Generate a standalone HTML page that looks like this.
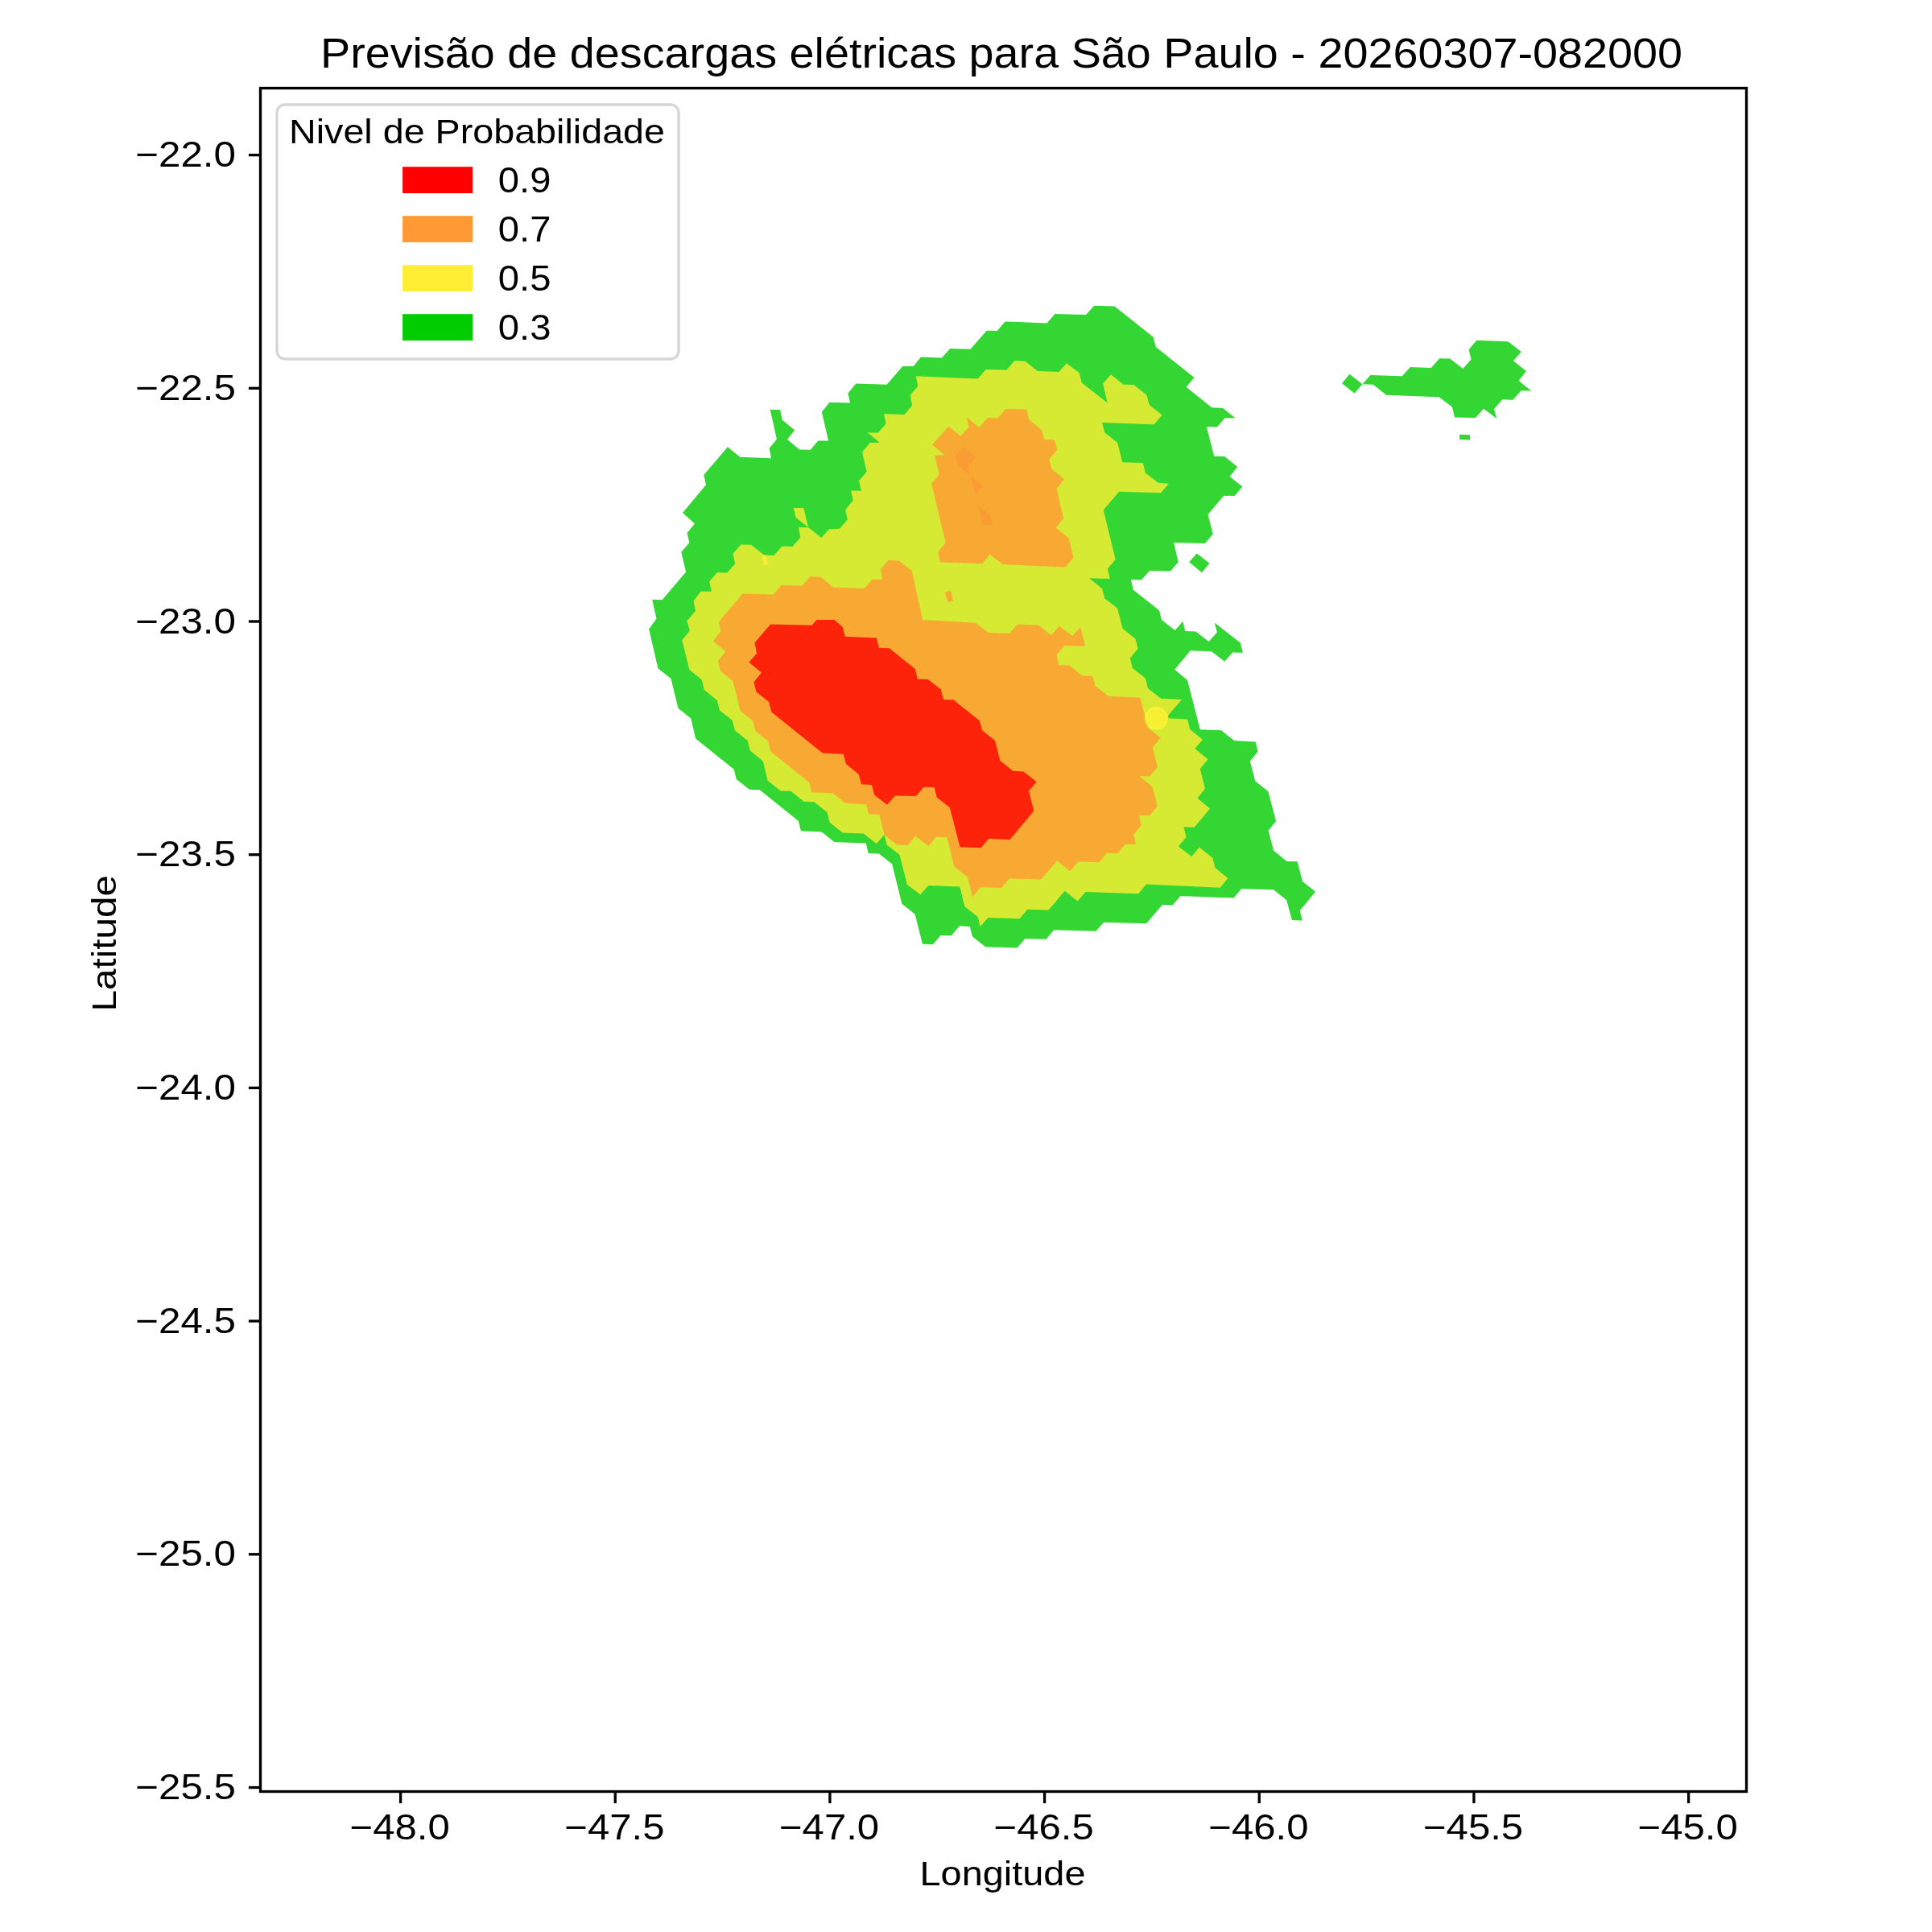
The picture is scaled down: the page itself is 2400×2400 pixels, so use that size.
<!DOCTYPE html><html><head><meta charset="utf-8"><style>html,body{margin:0;padding:0;background:#fff;width:2400px;height:2400px;overflow:hidden}svg{display:block;will-change:transform}text{font-family:"Liberation Sans",sans-serif;fill:#000}</style></head><body>
<svg width="2400" height="2400" viewBox="0 0 2400 2400">
<rect width="2400" height="2400" fill="#fff"/>
<path d="M815.5 768.6 L810.1 744.7 L822.5 745.2 L852.1 710.6 L846.3 685.7 L856.3 674.3 L853.6 661.9 L862.9 650.5 L848 637.1 L877 602.3 L874.3 589.9 L903.9 555.3 L919.4 567.7 L958.1 569.2 L955.6 557 L964.9 545.6 L956.7 508.7 L969.1 509.1 L971.8 521.8 L987.1 534.2 L978 546 L993.3 558.4 L1006.8 558.8 L1016.3 547.4 L1029.1 547.6 L1020.8 511.8 L1030.6 499.8 L1056 500.4 L1053.4 488.4 L1063.3 476.6 L1101.6 477.7 L1121.3 454.9 L1134.7 454.9 L1144 443.5 L1169.9 444.5 L1180.3 433.1 L1205.5 433.8 L1225.6 410.8 L1238.7 411 L1248.6 399.4 L1300.4 401.5 L1310.5 390.1 L1349 391.1 L1359.2 379.7 L1384.6 380.4 L1432.7 418.7 L1435.8 431.1 L1483.6 469 L1473.6 480.8 L1505.3 506.2 L1519.2 507.1 L1534.7 519.5 L1521.9 519.1 L1511.9 530.5 L1498.9 530 L1508.2 566.7 L1521.3 567.1 L1537.2 580.1 L1527.5 591.9 L1543.4 604.6 L1533.7 616 L1520.2 615.8 L1500.6 639.2 L1506.8 663.4 L1496.8 675 L1458.1 673.9 L1463.7 698.2 L1454 709.5 L1428.1 708.9 L1417.7 720.5 L1404.9 719.9 L1407.8 732.7 L1440.1 758.2 L1443 770 L1459.6 783 L1469.5 771.7 L1472.2 784.1 L1485.4 784.5 L1501.6 796.9 L1511.9 785.5 L1508.8 773.5 L1540.9 798.6 L1544 810.8 L1531.2 810.4 L1521.3 821.8 L1505.1 809.3 L1478.8 808.3 L1459.2 831.7 L1475.1 844.9 L1490.8 906.2 L1517.1 907.3 L1533.1 920.1 L1559.6 921.6 L1562.7 933.6 L1552.9 945.6 L1559.2 970.2 L1575.5 983.3 L1585 1019.9 L1585.3 1019.8 L1575.6 1031.7 L1582.1 1056.5 L1598.5 1069.9 L1611.7 1070.3 L1617.9 1094.8 L1634.1 1107.7 L1614.7 1131.3 L1617.9 1143.6 L1605 1143 L1598.1 1118 L1582 1105.2 L1542.2 1103.9 L1532.5 1115.4 L1466.5 1113 L1456.6 1124.5 L1443.9 1124 L1424 1147.2 L1371.2 1145.8 L1361.4 1156.7 L1309.1 1155.2 L1299.6 1166.8 L1273.4 1166.1 L1263.4 1177.5 L1224.2 1176.2 L1208 1163.5 L1204.8 1150.9 L1191.8 1150.3 L1181.9 1162.2 L1168.5 1161.9 L1159 1173.3 L1146 1172.7 L1136.6 1135.7 L1120.4 1122.7 L1108.1 1073.3 L1091.9 1060.5 L1078.8 1059.9 L1075.7 1047.4 L1036.4 1046 L1020.8 1033.4 L995 1032.3 L991.9 1019.9 L943.8 981.2 L930.8 980.8 L914.8 968.1 L911.7 955.7 L864.1 917.4 L858.3 892.6 L842.4 879.7 L833.5 842.9 L817.5 830.5 L806.1 781.4 Z" fill="#33d633"/>
<path d="M1692.5 477.2 L1702.4 465.9 L1741.8 467.3 L1751.9 455.9 L1777.8 457 L1788.1 445.2 L1801.2 445.6 L1817.3 458 L1827.5 446.6 L1824.6 434.2 L1834.3 422.8 L1873.6 424.2 L1889.8 436.9 L1879.9 448.3 L1896 461.1 L1886.5 473.1 L1902.2 485.5 L1889.6 485.3 L1879.4 496.7 L1866.4 496.3 L1856 508.1 L1859.2 520.1 L1843 507.7 L1832.9 519.1 L1807 518.4 L1803.9 505.6 L1787.7 493.2 L1722.1 490.7 L1705.9 477.7 Z" fill="#33d633"/>
<path d="M1667 476.2 L1676.5 464.8 L1692.5 477.2 L1682.5 488.6 Z" fill="#33d633"/>
<path d="M1813.2 539.8 L1826 540.2 L1826 546.6 L1813.2 546 Z" fill="#33d633"/>
<path d="M1477.2 698.2 L1486.7 687.4 L1502.6 699.8 L1492.9 711.2 Z" fill="#33d633"/>
<path d="M853.4 771.2 L864.1 758.8 L861.4 746.4 L870.7 734.8 L883.8 734.8 L881.1 722.4 L890.8 711.2 L903.3 711.6 L913.2 700.2 L910.5 687.8 L920.4 676.4 L932.9 676.8 L949.4 689.5 L961.4 689.9 L971.6 678.5 L984.6 678.9 L994.3 667.5 L991.9 655.3 L1004.3 655.3 L1020.2 668.1 L1030.2 657.2 L1043 656.7 L1052.9 645.4 L1050.2 633.4 L1059.8 621.6 L1057.1 609.5 L1069.9 609.8 L1067 597.3 L1076.7 585.9 L1071 561.5 L1080.9 550.1 L1092.7 549.7 L1077.8 537.3 L1090.6 537.7 L1100.6 526.3 L1098.1 514.3 L1123.7 514.9 L1133.1 503.5 L1130.6 491.1 L1140.3 479.7 L1137.8 467.3 L1214.8 470.4 L1224.6 459 L1250.5 459.4 L1260.4 448.1 L1273.4 448.7 L1289 461.1 L1315.3 462.1 L1325 451.2 L1340.7 463.2 L1343.8 475.6 L1375.7 500.4 L1370.1 476.6 L1379.9 465.2 L1395.6 477.7 L1408.4 478.1 L1424.6 490.7 L1427.7 503.1 L1443.6 515.5 L1433.7 527.3 L1369.1 524.9 L1372.2 537.3 L1388.1 549.7 L1394.3 574.3 L1419.8 575 L1422.9 587.4 L1438.9 599.8 L1451.9 600.8 L1442.2 612.2 L1390.2 610.8 L1370.7 633.6 L1385.7 695.1 L1375.9 706.4 L1378.8 718.9 L1353.1 718.2 L1369.1 731.3 L1372.2 743.3 L1388.1 755.7 L1394.6 780.8 L1410.5 793.4 L1413.6 805.8 L1403.9 817.6 L1406.8 830 L1422.9 842.5 L1426 854.9 L1442.2 867.7 L1468.1 869 L1451.3 888.4 L1451.3 892.2 L1475.1 893.6 L1478.2 906 L1493.9 918.7 L1484.4 930 L1500.6 943.3 L1490.8 954.9 L1497 979.7 L1487.5 991.5 L1503 1004.6 L1483.6 1027.8 L1470.5 1027.3 L1473.6 1039.8 L1463.9 1051.6 L1480.3 1064 L1489.8 1052.6 L1506.4 1065.7 L1509.5 1078.1 L1525.4 1090.9 L1515.7 1102.7 L1424 1098.6 L1414.2 1110.2 L1348.4 1107.9 L1338.7 1119.5 L1322.5 1106.4 L1322.5 1106.9 L1302.6 1130.6 L1276.3 1129.8 L1266.6 1141.2 L1227.4 1139.9 L1217.8 1150.9 L1214.6 1139 L1198.3 1126 L1192.2 1101.5 L1153.4 1100.1 L1143.3 1111.2 L1126.9 1098.9 L1117.6 1062.3 L1117.7 1061.9 L1101.6 1049.5 L1098.5 1037.1 L1088.8 1048.1 L1072.6 1035.4 L1046.7 1034.6 L1030.6 1021.6 L1027.5 1009.1 L1011.5 996.3 L998.5 995.7 L982.5 982.8 L969.7 982.6 L953.6 969.8 L947.8 945.6 L931.8 932.5 L928.7 920.1 L912.8 907.3 L909.7 894.8 L893.9 882.4 L890.8 870 L874.9 857 L871.8 844.5 L856.3 831.7 L847.3 795.3 L856.9 783.5 Z" fill="#d6e933"/>
<path d="M985.8 631 L998.3 631.1 L1004 655.1 L988.7 643 Z" fill="#d6e933"/>
<path d="M892.9 772.5 L895.2 784.5 L885.9 796.5 L901.4 809.3 L891.9 821.1 L895 833.8 L910.7 846.2 L919.4 882.8 L935.3 895.7 L938.4 908.1 L954.2 920.7 L957.3 933.6 L1005.3 971.9 L1008.4 984.3 L1034.3 985.3 L1050.2 997.7 L1076.1 999.2 L1079.2 1011.2 L1092.3 1011.8 L1098.5 1037.1 L1114.4 1049.5 L1127.5 1049.9 L1137.2 1038.5 L1153.4 1051 L1163.3 1039.6 L1176.5 1040.2 L1185.4 1076.4 L1202 1089.5 L1208.2 1113.7 L1218.4 1101.9 L1244.2 1102.9 L1253.8 1091.3 L1293.1 1092.6 L1313.2 1069.2 L1329.3 1082 L1339.5 1070.2 L1365.4 1071.2 L1374.9 1059.4 L1388.3 1059.9 L1398.1 1048.5 L1411.1 1049.1 L1408 1036.7 L1417.7 1025.3 L1415.1 1012.7 L1428.1 1012.9 L1437.8 1001.5 L1431.6 977.5 L1415.3 964 L1428.1 964.6 L1438 952.8 L1431.8 928.4 L1441.6 916.6 L1426 904.2 L1416.3 866.7 L1376.7 864.8 L1360.8 852.2 L1357.3 840 L1344.2 839.4 L1328.3 826.5 L1315.3 825.9 L1312.6 813.5 L1322.1 802.1 L1348 802.7 L1342.2 778.9 L1332.2 790.1 L1315.9 777.7 L1305.9 789.3 L1290 776.6 L1264.1 775.6 L1254.2 787 L1227.9 786.1 L1211.7 773.7 L1146.1 770 L1132.7 709.1 L1116.5 696.5 L1103.7 696.1 L1093.9 707.5 L1096.4 719.9 L1083.6 719.9 L1073.6 730.9 L1034.9 729.6 L1019.4 716.8 L1006.4 716.2 L996.4 727.8 L970.5 727.1 L960.8 738.5 L922.5 737.5 Z" fill="#f7a933"/>
<path d="M1178.2 529.8 L1158.1 552.6 L1173.4 565.2 L1161 565.7 L1166.8 589.5 L1157.1 600.8 L1174.7 674.3 L1165.2 685.7 L1167.8 698.2 L1220 700.2 L1229.8 688.8 L1245.9 701.3 L1323.5 704.4 L1333.5 692.6 L1327.7 668.6 L1311.5 655.7 L1321.1 643.9 L1312.6 607.1 L1322.1 595.3 L1306.4 582.8 L1303.3 570.4 L1313.2 559 L1310.1 546.6 L1297.2 546 L1294.1 534.2 L1278.4 521.6 L1275.3 508.7 L1249.4 508.1 L1239.3 519.5 L1226.6 519.1 L1216.5 530.9 L1200.8 518.4 L1203.5 530.5 L1193.5 541.8 Z" fill="#f7a933"/>
<path d="M1174.1 735.4 L1181.3 733.4 L1183.8 746.2 L1177.2 747.8 Z" fill="#f7a933"/>
<path d="M1174.4 736.4 L1180.3 734.9 L1183.2 746.8 L1177.3 748.1 Z" fill="#f7a933"/>
<path d="M1196.6 554.9 L1211.9 567.3 L1202.9 578.5 L1205.3 590.3 L1189.8 577.9 L1187 566.1 Z" fill="#f99c33"/>
<path d="M1205.7 591.6 L1221.2 603.7 L1211.6 614.8 Z" fill="#f99c33"/>
<path d="M1215 627.9 L1230.2 640.3 L1233.3 652.4 L1220.9 651.8 Z" fill="#f99c33"/>
<path d="M1008.4 776.8 L957.1 775.6 L937.4 798.6 L940.1 811.4 L930.4 822.8 L945.9 835.6 L936.4 847.2 L939.5 859.6 L955.2 872.1 L958.3 884.5 L1021.9 935.6 L1047.8 936.7 L1050.9 949.1 L1066.8 961.9 L1069.9 974.3 L1083 975 L1086.1 987.4 L1102 999.8 L1111.9 988.4 L1137.8 989 L1147.6 977.7 L1160.6 978.1 L1163.7 990.5 L1179.9 1003.3 L1192.5 1052.2 L1218.6 1053.2 L1228.3 1041.8 L1254.6 1042.9 L1284.2 1007.5 L1278 982.6 L1287.7 971.2 L1271.4 958.4 L1258.3 957.8 L1242.4 944.9 L1236 920.1 L1220 907.3 L1216.9 895.3 L1190 874.1 L1185 869.4 L1172 869 L1168.9 856.5 L1152.9 843.9 L1139.9 843.5 L1136.8 831.1 L1104.7 805.2 L1091.9 804.8 L1088.8 792.4 L1049.8 790.7 L1046.7 778.7 L1036.4 770 L1014.6 770 Z" fill="#fd220a"/>
<path d="M946.3 690.5 L951.5 689.5 L954.6 701.3 L949.4 702.7 Z" fill="#f7ef36"/>
<circle cx="1436.4" cy="892.4" r="14.4" fill="#fcf236"/><circle cx="1436.4" cy="892.4" r="11.6" fill="#f6f033"/>
<rect x="323.5" y="109.5" width="1846" height="2116" fill="none" stroke="#000" stroke-width="3.33" stroke-linejoin="miter"/>
<line x1="308.92" y1="192.6" x2="323.5" y2="192.6" stroke="#000" stroke-width="3.33"/>
<text x="293.0" y="207.2" font-size="44.3" text-anchor="end" textLength="124.8" lengthAdjust="spacingAndGlyphs">−22.0</text>
<line x1="308.92" y1="482.3" x2="323.5" y2="482.3" stroke="#000" stroke-width="3.33"/>
<text x="293.0" y="496.9" font-size="44.3" text-anchor="end" textLength="124.8" lengthAdjust="spacingAndGlyphs">−22.5</text>
<line x1="308.92" y1="772" x2="323.5" y2="772" stroke="#000" stroke-width="3.33"/>
<text x="293.0" y="786.6" font-size="44.3" text-anchor="end" textLength="124.8" lengthAdjust="spacingAndGlyphs">−23.0</text>
<line x1="308.92" y1="1061.7" x2="323.5" y2="1061.7" stroke="#000" stroke-width="3.33"/>
<text x="293.0" y="1076.3" font-size="44.3" text-anchor="end" textLength="124.8" lengthAdjust="spacingAndGlyphs">−23.5</text>
<line x1="308.92" y1="1351.4" x2="323.5" y2="1351.4" stroke="#000" stroke-width="3.33"/>
<text x="293.0" y="1366" font-size="44.3" text-anchor="end" textLength="124.8" lengthAdjust="spacingAndGlyphs">−24.0</text>
<line x1="308.92" y1="1641.1" x2="323.5" y2="1641.1" stroke="#000" stroke-width="3.33"/>
<text x="293.0" y="1655.7" font-size="44.3" text-anchor="end" textLength="124.8" lengthAdjust="spacingAndGlyphs">−24.5</text>
<line x1="308.92" y1="1930.8" x2="323.5" y2="1930.8" stroke="#000" stroke-width="3.33"/>
<text x="293.0" y="1945.4" font-size="44.3" text-anchor="end" textLength="124.8" lengthAdjust="spacingAndGlyphs">−25.0</text>
<line x1="308.92" y1="2220.5" x2="323.5" y2="2220.5" stroke="#000" stroke-width="3.33"/>
<text x="293.0" y="2235.1" font-size="44.3" text-anchor="end" textLength="124.8" lengthAdjust="spacingAndGlyphs">−25.5</text>
<line x1="497.6" y1="2225.5" x2="497.6" y2="2240.08" stroke="#000" stroke-width="3.33"/>
<text x="434.6" y="2285.3" font-size="44.3" textLength="124.2" lengthAdjust="spacingAndGlyphs">−48.0</text>
<line x1="764.267" y1="2225.5" x2="764.267" y2="2240.08" stroke="#000" stroke-width="3.33"/>
<text x="701.267" y="2285.3" font-size="44.3" textLength="124.2" lengthAdjust="spacingAndGlyphs">−47.5</text>
<line x1="1030.93" y1="2225.5" x2="1030.93" y2="2240.08" stroke="#000" stroke-width="3.33"/>
<text x="967.934" y="2285.3" font-size="44.3" textLength="124.2" lengthAdjust="spacingAndGlyphs">−47.0</text>
<line x1="1297.6" y1="2225.5" x2="1297.6" y2="2240.08" stroke="#000" stroke-width="3.33"/>
<text x="1234.6" y="2285.3" font-size="44.3" textLength="124.2" lengthAdjust="spacingAndGlyphs">−46.5</text>
<line x1="1564.27" y1="2225.5" x2="1564.27" y2="2240.08" stroke="#000" stroke-width="3.33"/>
<text x="1501.27" y="2285.3" font-size="44.3" textLength="124.2" lengthAdjust="spacingAndGlyphs">−46.0</text>
<line x1="1830.93" y1="2225.5" x2="1830.93" y2="2240.08" stroke="#000" stroke-width="3.33"/>
<text x="1767.93" y="2285.3" font-size="44.3" textLength="124.2" lengthAdjust="spacingAndGlyphs">−45.5</text>
<line x1="2097.6" y1="2225.5" x2="2097.6" y2="2240.08" stroke="#000" stroke-width="3.33"/>
<text x="2034.6" y="2285.3" font-size="44.3" textLength="124.2" lengthAdjust="spacingAndGlyphs">−45.0</text>
<text x="398" y="84" font-size="51" textLength="1692" lengthAdjust="spacingAndGlyphs">Previsão de descargas elétricas para São Paulo - 20260307-082000</text>
<text x="1142.5" y="2341.8" font-size="43" textLength="206" lengthAdjust="spacingAndGlyphs">Longitude</text>
<text transform="translate(143.8 1256.5) rotate(-90)" x="0" y="0" font-size="43" textLength="169.5" lengthAdjust="spacingAndGlyphs">Latitude</text>
<rect x="344" y="130" width="499" height="316" rx="10" ry="10" fill="#fff" fill-opacity="0.8" stroke="#d6d6d6" stroke-width="3.33"/>
<text x="359" y="177.6" font-size="43" textLength="467" lengthAdjust="spacingAndGlyphs">Nivel de Probabilidade</text>
<rect x="500.1" y="207.2" width="87" height="32.8" fill="#ff0000"/>
<text x="618.8" y="238.5" font-size="44.5" textLength="65.6" lengthAdjust="spacingAndGlyphs">0.9</text>
<rect x="500.1" y="268.2" width="87" height="32.8" fill="#ff9933"/>
<text x="618.8" y="299.5" font-size="44.5" textLength="65.6" lengthAdjust="spacingAndGlyphs">0.7</text>
<rect x="500.1" y="329.2" width="87" height="32.8" fill="#ffee33"/>
<text x="618.8" y="360.5" font-size="44.5" textLength="65.6" lengthAdjust="spacingAndGlyphs">0.5</text>
<rect x="500.1" y="390.2" width="87" height="32.8" fill="#00cc00"/>
<text x="618.8" y="421.5" font-size="44.5" textLength="65.6" lengthAdjust="spacingAndGlyphs">0.3</text>
</svg></body></html>
